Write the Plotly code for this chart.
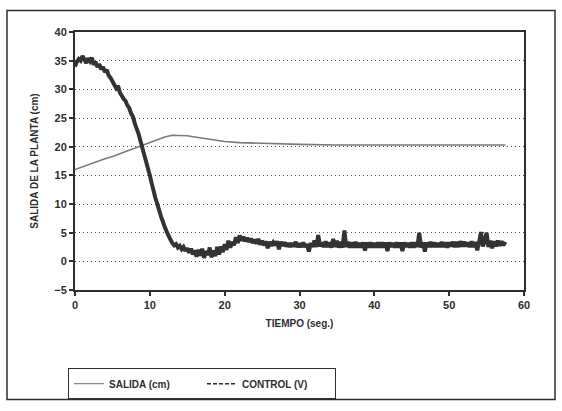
import plotly.graph_objects as go

# ---- data ----
DT = 0.25  # sampling step of the measured output (s)
salida = [
    34.0, 34.8, 35.3, 35.0,  35.8, 35.2, 34.6, 35.4,  34.9, 35.5, 34.3, 34.8,
    33.9, 34.4, 33.5, 33.9,  33.0, 33.4, 32.4, 32.0,  31.4, 30.8, 30.2, 30.6,
    29.4, 28.9, 28.3, 28.0,  27.2, 26.7, 25.8, 25.2,  24.0, 23.1, 22.2, 21.0,
    19.8, 18.6, 17.4, 16.2,  15.0, 13.6, 12.3, 11.0,  10.0, 8.9, 7.8, 6.9,
    6.0, 5.2, 4.5, 3.8,      3.2, 2.8, 3.0, 2.4,      2.7, 2.1, 2.5, 1.8,
    2.3, 1.5, 2.2, 1.2,      1.9, 0.8, 2.0, 1.0,      2.2, 0.6, 1.8, 1.1,
    2.4, 0.7, 1.9, 0.9,      2.5, 1.2, 2.6, 1.6,      3.0, 2.0, 3.6, 2.4,
    3.4, 2.8, 4.2, 3.2,      4.5, 3.6, 4.3, 3.5,      4.1, 3.4, 4.0, 3.2,
    3.8, 3.1, 3.9, 2.9,      3.6, 2.8, 3.5, 2.3,      3.4, 2.7, 3.3, 2.8,
    3.5, 2.1, 3.4, 2.7,      3.3, 2.6, 3.2, 2.5,      3.2, 2.6, 3.4, 2.5,
    3.1, 2.5, 3.3, 2.5,      3.0, 1.7, 3.2, 2.5,      3.6, 2.5, 4.6, 2.6,
    3.3, 2.5, 3.5, 2.5,      3.3, 2.4, 3.9, 2.5,      3.6, 2.4, 3.4, 2.4,
    5.4, 2.5, 3.4, 2.4,      3.3, 2.4, 3.4, 2.4,      3.2, 2.4, 3.3, 1.9,
    3.3, 2.4, 3.3, 2.4,      3.2, 2.4, 3.3, 2.4,      3.3, 2.4, 3.3, 1.8,
    3.3, 2.5, 3.2, 2.4,      3.3, 2.4, 3.3, 1.8,      3.3, 2.5, 3.2, 2.4,
    3.3, 2.4, 3.3, 2.5,      5.0, 2.4, 3.3, 1.7,      3.3, 2.5, 3.4, 2.5,
    3.3, 2.5, 3.2, 2.5,      3.4, 2.5, 3.3, 2.4,      3.3, 2.6, 3.4, 2.5,
    3.4, 2.5, 3.5, 2.6,      3.4, 2.6, 3.3, 2.5,      3.5, 2.5, 3.4, 1.9,
    3.4, 5.1, 2.6, 3.5,      5.0, 2.5, 3.6, 2.3,      3.5, 2.6, 3.6, 2.7,
    3.5, 2.8, 3.4,
]
t_salida = [i * DT for i in range(len(salida))]

t_control = [0, 1, 2, 3, 4, 5, 6, 7, 8, 9, 10, 11, 12, 13, 14, 15, 16, 17, 18,
             19, 20, 22, 24, 26, 28, 30, 35, 40, 45, 50, 55, 57.5]
control = [16.0, 16.5, 17.0, 17.4, 17.9, 18.3, 18.8, 19.3, 19.8, 20.3, 20.8,
           21.3, 21.7, 22.0, 22.0, 21.9, 21.7, 21.5, 21.3, 21.1, 20.9, 20.7,
           20.6, 20.5, 20.4, 20.4, 20.3, 20.3, 20.3, 20.3, 20.3, 20.3]

y_ticks = [-5, 0, 5, 10, 15, 20, 25, 30, 35, 40]
x_ticks = [0, 10, 20, 30, 40, 50, 60]
legend_names = ["SALIDA (cm)", "CONTROL (V)"]

INK = "#2e2e2e"
FONT = "Liberation Sans"

fig = go.Figure()
fig.add_trace(go.Scatter(x=t_control, y=control, mode="lines",
                         line=dict(color="#7a7a7a", width=1.6),
                         showlegend=False, hoverinfo="skip"))
fig.add_trace(go.Scatter(x=t_salida, y=salida, mode="lines",
                         line=dict(color="#333333", width=4, simplify=False),
                         showlegend=False, hoverinfo="skip"))
# legend entries as drawn in the original
fig.add_trace(go.Scatter(x=[None], y=[None], mode="lines", name=legend_names[0],
                         line=dict(color="#8a8a8a", width=1.2)))
fig.add_trace(go.Scatter(x=[None], y=[None], mode="lines", name=legend_names[1],
                         line=dict(color=INK, width=1.4, dash="4px,2px")))

L, R, T, B = 75, 524, 32, 296
W, H = 562, 411
pw, ph = R - L, B - T
def px(x):
    return (x - L) / pw
def py(y):
    return (B - y) / ph

fig.update_layout(
    width=W, height=H,
    margin=dict(l=L, r=W - R, t=T, b=H - B),
    paper_bgcolor="white", plot_bgcolor="white",
    font=dict(family=FONT, color=INK, size=11),
    legend=dict(orientation="h", x=px(68), y=py(376), xanchor="left", yanchor="top",
                bordercolor=INK, borderwidth=1, bgcolor="white",
                font=dict(family=FONT, size=10, weight="bold", color=INK),
                entrywidth=88, entrywidthmode="pixels", itemwidth=30,
                tracegroupgap=0),
    shapes=[dict(type="rect", xref="paper", yref="paper",
                 x0=px(7), x1=px(555), y0=py(408), y1=py(10),
                 line=dict(color=INK, width=1.5), layer="below")],
)
fig.update_xaxes(range=[0, 60], tickvals=x_ticks, ticks="outside", ticklen=4,
                 tickwidth=1.5, tickcolor=INK, showgrid=False, zeroline=False,
                 showline=True, linecolor=INK, linewidth=2, mirror=True,
                 tickfont=dict(family=FONT, size=11, weight="bold", color=INK),
                 title=dict(text="TIEMPO (seg.)", standoff=10,
                            font=dict(family=FONT, size=10, weight="bold", color=INK)))
fig.update_yaxes(range=[-5, 40], tickvals=y_ticks, ticks="outside", ticklen=4,
                 tickwidth=1.5, tickcolor=INK, showgrid=True, gridcolor="#555555",
                 griddash="1px,3px", gridwidth=1.2, zeroline=False,
                 showline=True, linecolor=INK, linewidth=2, mirror=True,
                 tickfont=dict(family=FONT, size=11, weight="bold", color=INK),
                 title=dict(text="SALIDA DE LA PLANTA (cm)", standoff=14,
                            font=dict(family=FONT, size=10, weight="bold", color=INK)))

fig.write_html("out.html")
